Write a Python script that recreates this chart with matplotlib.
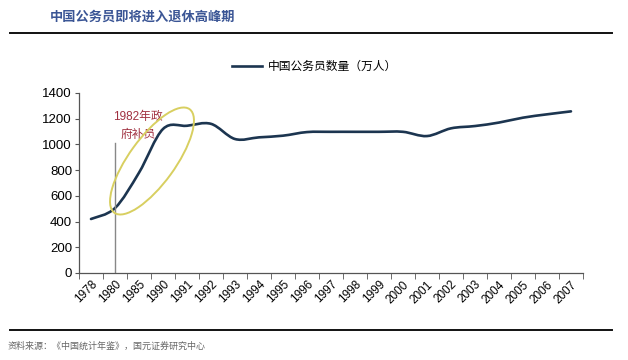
import matplotlib
matplotlib.use("Agg")
import matplotlib.pyplot as plt
from matplotlib.path import Path
from matplotlib.patches import PathPatch, Ellipse
from matplotlib.lines import Line2D
import numpy as np

plt.rcParams['font.family'] = ['Liberation Sans', 'Noto Sans CJK SC', 'DejaVu Sans']

years = ['1978', '1980', '1985', '1990', '1991', '1992', '1993', '1994', '1995',
         '1996', '1997', '1998', '1999', '2000', '2001', '2002', '2003', '2004',
         '2005', '2006', '2007']
civil_servants = [420, 505, 780, 1120, 1145, 1160, 1042, 1055, 1068, 1096, 1098,
                  1098, 1098, 1098, 1065, 1125, 1143, 1170, 1208, 1234, 1257]

title = '中国公务员即将进入退休高峰期'
legend_label = '中国公务员数量（万人）'
note = '1982年政\n府补员'
source = '资料来源：《中国统计年鉴》，国元证券研究中心'

line_color = '#1c3550'

fig = plt.figure(figsize=(6.28, 3.6), dpi=100)
ax = fig.add_axes([0.1258, 0.2417, 0.8025, 0.5])

# smooth line like Excel: Catmull-Rom converted to bezier segments
x = np.arange(len(civil_servants), dtype=float)
y = np.array(civil_servants, dtype=float)
verts = [(x[0], y[0])]
codes = [Path.MOVETO]
for i in range(len(x) - 1):
    p0 = (x[i - 1], y[i - 1]) if i > 0 else (x[i], y[i])
    p1 = (x[i], y[i])
    p2 = (x[i + 1], y[i + 1])
    p3 = (x[i + 2], y[i + 2]) if i + 2 < len(x) else (x[i + 1], y[i + 1])
    c1 = (p1[0] + (p2[0] - p0[0]) / 6, p1[1] + (p2[1] - p0[1]) / 6)
    c2 = (p2[0] - (p3[0] - p1[0]) / 6, p2[1] - (p3[1] - p1[1]) / 6)
    verts += [c1, c2, p2]
    codes += [Path.CURVE4] * 3
ax.add_patch(PathPatch(Path(verts, codes), fill=False, ec=line_color, lw=1.9,
                       capstyle='round'))

ax.set_xlim(-0.5, len(years) - 0.5)
ax.set_ylim(0, 1400)
ax.set_yticks(range(0, 1401, 200))
ax.set_xticks(x)
ax.set_xticklabels(years, rotation=45, ha='right', rotation_mode='anchor', fontsize=8.5)
ax.set_xticks(np.arange(-0.5, len(years)), minor=True)
ax.tick_params(axis='x', which='major', length=0, pad=4)
ax.tick_params(axis='x', which='minor', length=4, direction='out', color='#555555')
ax.tick_params(axis='y', length=3, direction='out', color='#555555', labelsize=9.5, pad=2)
for s in ['top', 'right']:
    ax.spines[s].set_visible(False)
for s in ['left', 'bottom']:
    ax.spines[s].set_color('#555555')
    ax.spines[s].set_linewidth(0.9)

# annotation
ax.plot([1, 1], [0, 1010], color='#888888', lw=1)
ax.text(1.95, 1145, note, ha='center', va='center', fontsize=8.5, color='#a03040',
        linespacing=1.6, family=['Liberation Sans', 'Noto Sans CJK SC'])

# ellipse drawn in pixel space so the tilt looks right
ell = Ellipse((152, 360 - 161), width=128, height=46, angle=54, fill=False,
              ec='#d8cf60', lw=1.4, transform=None)
fig.patches.append(ell)

# legend
fig.add_artist(Line2D([232 / 628, 262 / 628], [1 - 66 / 360] * 2, color=line_color, lw=1.9))
fig.text(268 / 628, 1 - 66 / 360, legend_label, fontsize=8.5, va='center', ha='left',
         family=['Noto Sans CJK SC'])

# header and footer
fig.text(50 / 628, 1 - 17 / 360, title, fontsize=9.5, color='#3a5595', va='center',
         ha='left', family=['Noto Sans CJK SC'], fontweight='bold')
fig.add_artist(Line2D([10 / 628, 612 / 628], [1 - 33 / 360] * 2, color='#111111', lw=1.4))
fig.add_artist(Line2D([10 / 628, 612 / 628], [1 - 330 / 360] * 2, color='#111111', lw=1.4))
fig.text(8 / 628, 1 - 346 / 360, source, fontsize=6.5, color='#666666', va='center',
         ha='left', family=['Noto Sans CJK SC'])

fig.savefig('out.png', dpi=100)
